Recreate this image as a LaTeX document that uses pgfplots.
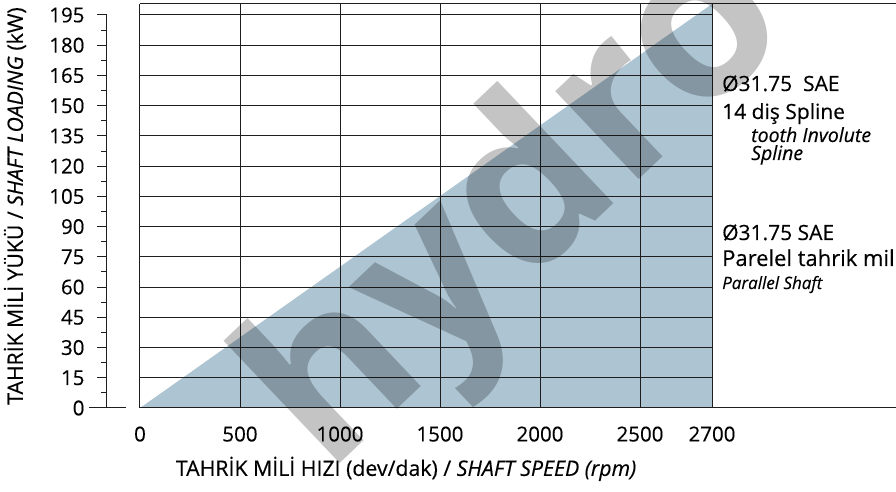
\documentclass[border=0pt]{standalone}
\usepackage{pgfplots}
\pgfplotsset{compat=1.18}
\usepackage{fontspec}
\setmainfont{Open Sans}[FakeBold=0.3]
\newfontfamily\wmfont{Open Sans}
\definecolor{areablue}{RGB}{173,196,210}
\definecolor{linegray}{RGB}{30,30,30}
\begin{document}
\begin{tikzpicture}[x=1pt,y=1pt]
\path[use as bounding box, clip] (-107,-84) rectangle (789,408);
\begin{axis}[
  at={(0,0)}, anchor=south west,
  scale only axis, width=789pt, height=404pt,
  clip=false,
  xmin=-165, xmax=3211.1, ymin=0, ymax=200.45,
  % last segment (2500-2700) is stretched in the original drawing
  x coord trafo/.code={\pgfmathparse{#1>2500 ? 2500+1.8*(#1-2500) : #1}},
  x coord inv trafo/.code={\pgfmathparse{#1>2500 ? 2500+(#1-2500)/1.8 : #1}},
  axis x line*=bottom, axis y line*=left,
  x axis line style={draw=none}, y axis line style={draw=none},
  xtick={0,500,1000,1500,2000,2500,2700},
  xticklabels={0,500,1000,1500,2000,2500,2700},
  x tick style={draw=none},
  ytick={0,15,30,45,60,75,90,105,120,135,150,165,180,195},
  minor y tick num=1,
  tick align=outside,
  major tick length=10pt, minor tick length=6pt,
  y tick style={linegray, line width=1pt},
  ticklabel style={font=\fontsize{20.5}{24}\selectfont, text=black},
  xticklabel style={yshift=-5pt},
  yticklabel style={xshift=-9pt},
  /pgf/number format/assume math mode=true,
  xlabel={TAHRİK MİLİ HIZI (dev/dak) / \textit{SHAFT SPEED (rpm)}},
  xlabel style={font=\fontsize{21.3}{25}\selectfont, anchor=base, at={(axis description cs:0.379,-0.168)}},
  ylabel={TAHRİK MİLİ YÜKÜ / \textit{SHAFT LOADING} (kW)},
  ylabel style={font=\fontsize{21.2}{25}\selectfont, anchor=center, at={(axis description cs:-0.1166,0.5)}},
]
\addplot[fill=areablue, draw=none] coordinates {(0,0) (2700,200.45) (2700,0)} -- cycle;
\pgfplotsinvokeforeach{15,30,45,60,75,90,105,120,135,150,165,180,195}{
  \draw[linegray, line width=1pt] (axis cs:0,#1) -- (axis cs:2700,#1);
}
\pgfplotsinvokeforeach{0,500,1000,1500,2000,2500,2700}{
  \draw[linegray, line width=1pt] (axis cs:#1,0) -- (axis cs:#1,200.45);
}
\draw[linegray, line width=1pt] (axis cs:0,0) -- (axis cs:3211.1,0);
\draw[linegray, line width=1pt] (axis cs:0,200.45) -- (axis cs:3211.1,200.45);
\draw[linegray, line width=1pt] (axis cs:-165,0) -- (axis cs:-165,195);
\draw[linegray, line width=1pt] (axis cs:-255,0) -- (axis cs:-70,0);
\end{axis}
\begin{scope}[every node/.style={anchor=base west, inner sep=0pt}]
\node[font=\fontsize{21}{25}\selectfont] at (615,317) {Ø31.75\ \ SAE};
\node[font=\fontsize{21}{25}\selectfont] at (615,289) {14 diş Spline};
\node[font=\fontsize{19.5}{22}\selectfont\itshape] at (644,266) {tooth Involute};
\node[font=\fontsize{19.5}{22}\selectfont\itshape] at (644,248) {Spline};
\node[font=\fontsize{21}{25}\selectfont] at (615,168) {Ø31.75 SAE};
\node[font=\fontsize{22}{26}\selectfont] at (615,142) {Parelel tahrik mili};
\node[font=\fontsize{17}{20}\selectfont\itshape] at (615,119) {Parallel Shaft};
\end{scope}
\node[rotate=43.5, anchor=base west, inner sep=0pt, text=black, text opacity=0.23,
  font=\fontsize{222}{222}\selectfont\wmfont\bfseries] at (220,-68) {hydro};
\end{tikzpicture}
\end{document}
